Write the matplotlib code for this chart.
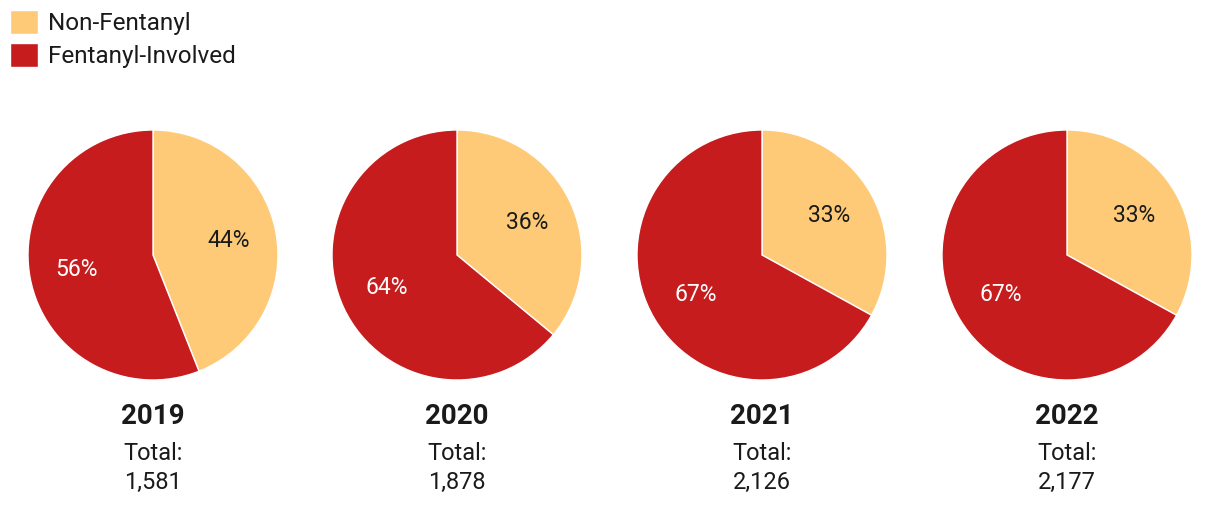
import matplotlib
matplotlib.use("Agg")
import matplotlib.pyplot as plt

plt.rcParams["font.family"] = ["Roboto", "DejaVu Sans"]

years = ["2019", "2020", "2021", "2022"]
totals = ["1,581", "1,878", "2,126", "2,177"]
non_fentanyl = [44, 36, 33, 33]
fentanyl = [56, 64, 67, 67]
labels = ["Non-Fentanyl", "Fentanyl-Involved"]
colors = ["#FECA78", "#C61C1E"]
text_colors = ["#1a1a1a", "white"]

W, H = 1220, 526
fig = plt.figure(figsize=(W / 100, H / 100), dpi=100)

centers_x = [153, 457, 762, 1067]
cy = 255
r = 125

wedges = None
for i, year in enumerate(years):
    cx = centers_x[i]
    ax = fig.add_axes([(cx - r) / W, (H - cy - r) / H, 2 * r / W, 2 * r / H])
    vals = [non_fentanyl[i], fentanyl[i]]
    wedges, texts, autotexts = ax.pie(
        vals, colors=colors, startangle=90, counterclock=False,
        autopct="%d%%", pctdistance=0.62,
        wedgeprops=dict(edgecolor="white", linewidth=1),
        textprops=dict(fontsize=16.5),
    )
    for t, c in zip(autotexts, text_colors):
        t.set_color(c)
    ax.set_xlim(-1, 1)
    ax.set_ylim(-1, 1)
    ax.set_aspect("equal")
    ax.axis("off")

    fig.text(cx / W, 1 - 417 / H, year, ha="center", va="center",
             fontsize=20, fontweight="bold", color="#1a1a1a")
    fig.text(cx / W, 1 - 454 / H, "Total:", ha="center", va="center",
             fontsize=17, color="#1a1a1a")
    fig.text(cx / W, 1 - 482 / H, totals[i], ha="center", va="center",
             fontsize=17, color="#1a1a1a")

fig.legend(wedges, labels, loc="upper left", bbox_to_anchor=(10 / W, 1 - 10 / H),
           frameon=False, borderpad=0, borderaxespad=0, fontsize=17.5,
           handlelength=1.15, handleheight=1.15, handletextpad=0.4,
           labelspacing=0.3, labelcolor="#1a1a1a")

fig.savefig("out.png", dpi=100, facecolor="white")
